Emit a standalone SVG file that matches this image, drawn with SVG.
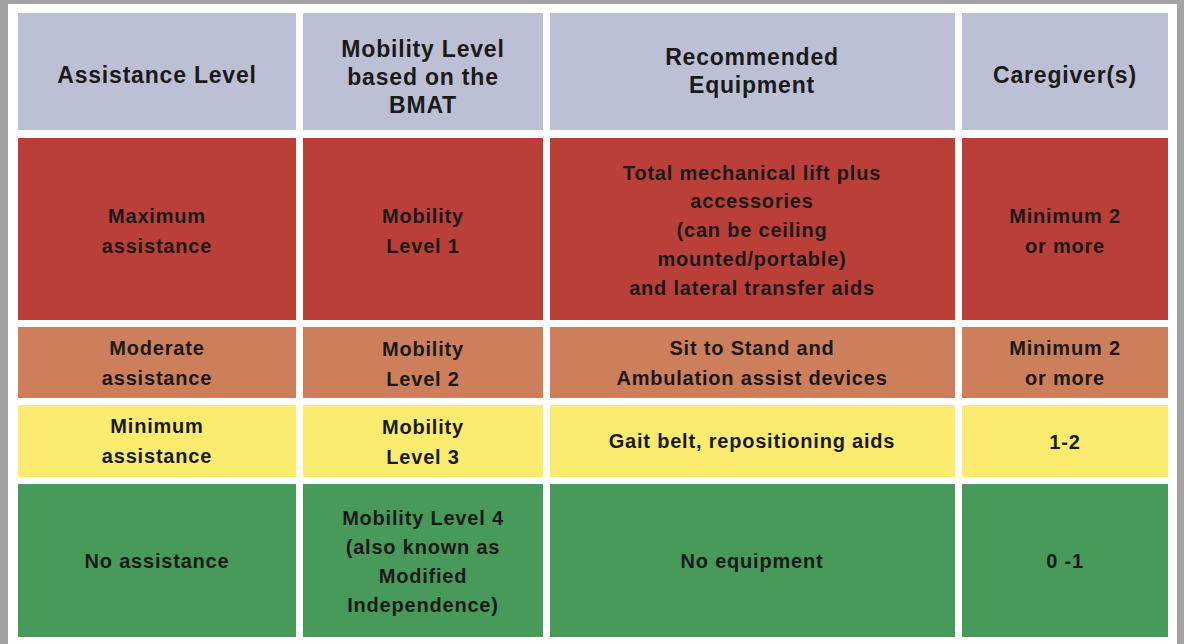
<svg xmlns="http://www.w3.org/2000/svg" width="1184" height="644" viewBox="0 0 1184 644">
<style>
text{font-family:"Liberation Sans",Arial,sans-serif;font-weight:bold;fill:#1a1a1a;text-anchor:middle}
.h{font-size:23px;letter-spacing:0.8px}
.b{font-size:20px;letter-spacing:0.8px}
.hd{fill:#bcc0d4}.r1{fill:#ba3f38}.r2{fill:#cd7f5c}.r3{fill:#fbec70}.r4{fill:#479a59}
</style>
<rect width="1184" height="644" fill="#a3a3a3"/>
<rect x="8" y="4" width="1169" height="640" fill="#ffffff"/>
<g id="header">
<rect class="hd" x="18" y="13" width="278" height="117"/>
<rect class="hd" x="303" y="13" width="240" height="117"/>
<rect class="hd" x="550" y="13" width="405" height="117"/>
<rect class="hd" x="962" y="13" width="206" height="117"/>
<text class="h" x="157" y="83">Assistance Level</text>
<text class="h" x="423" y="57">Mobility Level</text>
<text class="h" x="423" y="85">based on the</text>
<text class="h" x="423" y="113">BMAT</text>
<text class="h" x="752" y="65">Recommended</text>
<text class="h" x="752" y="93">Equipment</text>
<text class="h" x="1065" y="83">Caregiver(s)</text>
</g>
<g id="row1">
<rect class="r1" x="18" y="138" width="278" height="182"/>
<rect class="r1" x="303" y="138" width="240" height="182"/>
<rect class="r1" x="550" y="138" width="405" height="182"/>
<rect class="r1" x="962" y="138" width="206" height="182"/>
<text class="b" x="157" y="223">Maximum</text>
<text class="b" x="157" y="253">assistance</text>
<text class="b" x="423" y="223">Mobility</text>
<text class="b" x="423" y="253">Level 1</text>
<text class="b" x="752" y="180">Total mechanical lift plus</text>
<text class="b" x="752" y="208">accessories</text>
<text class="b" x="752" y="237">(can be ceiling</text>
<text class="b" x="752" y="266">mounted/portable)</text>
<text class="b" x="752" y="295">and lateral transfer aids</text>
<text class="b" x="1065" y="223">Minimum 2</text>
<text class="b" x="1065" y="253">or more</text>
</g>
<g id="row2">
<rect class="r2" x="18" y="327" width="278" height="71"/>
<rect class="r2" x="303" y="327" width="240" height="71"/>
<rect class="r2" x="550" y="327" width="405" height="71"/>
<rect class="r2" x="962" y="327" width="206" height="71"/>
<text class="b" x="157" y="355">Moderate</text>
<text class="b" x="157" y="385">assistance</text>
<text class="b" x="423" y="356">Mobility</text>
<text class="b" x="423" y="386">Level 2</text>
<text class="b" x="752" y="355">Sit to Stand and</text>
<text class="b" x="752" y="385">Ambulation assist devices</text>
<text class="b" x="1065" y="355">Minimum 2</text>
<text class="b" x="1065" y="385">or more</text>
</g>
<g id="row3">
<rect class="r3" x="18" y="405" width="278" height="72"/>
<rect class="r3" x="303" y="405" width="240" height="72"/>
<rect class="r3" x="550" y="405" width="405" height="72"/>
<rect class="r3" x="962" y="405" width="206" height="72"/>
<text class="b" x="157" y="433">Minimum</text>
<text class="b" x="157" y="463">assistance</text>
<text class="b" x="423" y="434">Mobility</text>
<text class="b" x="423" y="464">Level 3</text>
<text class="b" x="752" y="448">Gait belt, repositioning aids</text>
<text class="b" x="1065" y="449">1-2</text>
</g>
<g id="row4">
<rect class="r4" x="18" y="484" width="278" height="153"/>
<rect class="r4" x="303" y="484" width="240" height="153"/>
<rect class="r4" x="550" y="484" width="405" height="153"/>
<rect class="r4" x="962" y="484" width="206" height="153"/>
<text class="b" x="157" y="568">No assistance</text>
<text class="b" x="423" y="525">Mobility Level 4</text>
<text class="b" x="423" y="554">(also known as</text>
<text class="b" x="423" y="583">Modified</text>
<text class="b" x="423" y="612">Independence)</text>
<text class="b" x="752" y="568">No equipment</text>
<text class="b" x="1065" y="568">0 -1</text>
</g>
</svg>
